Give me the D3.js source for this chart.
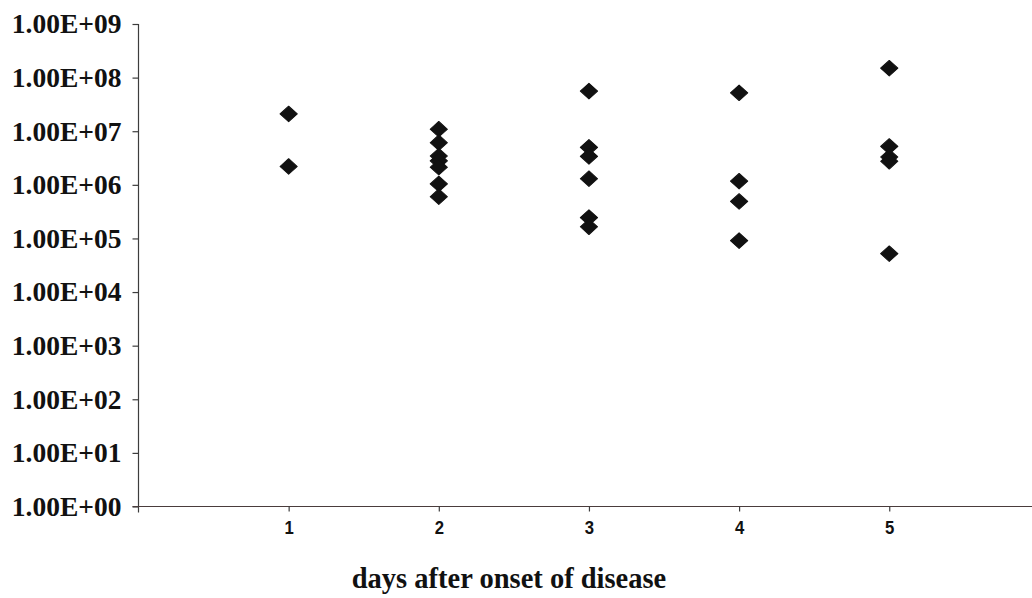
<!DOCTYPE html>
<html>
<head>
<meta charset="utf-8">
<script src="https://cdn.jsdelivr.net/npm/d3@7"></script>
<style>
  html, body { margin: 0; padding: 0; background: #fff; }
  svg { display: block; }
</style>
</head>
<body>
<svg id="chart" width="1032" height="598"></svg>
<script>
// ---- data ----
const days = [1, 2, 3, 4, 5];
const day1 = [2.1e7, 2.2e6];
const day2 = [1.09e7, 6.1e6, 3.45e6, 2.8e6, 2.13e6, 1.04e6, 6.0e5];
const day3 = [5.6e7, 5.0e6, 3.4e6, 1.3e6, 2.45e5, 1.65e5];
const day4 = [5.2e7, 1.17e6, 4.9e5, 9.1e4];
const day5 = [1.5e8, 5.2e6, 3.3e6, 2.75e6, 5.2e4];
const yTickValues = [1e0, 1e1, 1e2, 1e3, 1e4, 1e5, 1e6, 1e7, 1e8, 1e9];
const yTickLabels = ["1.00E+00","1.00E+01","1.00E+02","1.00E+03","1.00E+04",
                     "1.00E+05","1.00E+06","1.00E+07","1.00E+08","1.00E+09"];
const xTitle = "days after onset of disease";

const seriesByDay = [day1, day2, day3, day4, day5];
const points = [];
seriesByDay.forEach((vals, i) => vals.forEach(v => points.push({day: days[i], value: v})));

// ---- layout ----
const svg = d3.select("#chart");
const x0 = 138.5, yTop = 24, yBottom = 506.5;
const x = d3.scaleLinear().domain([0, 6]).range([x0, x0 + 6 * 150.15]);
const y = d3.scaleLog().domain([1e0, 1e9]).range([yBottom, yTop]);

const axisColor = "#3d3d3d";

// y axis
const yAxis = d3.axisLeft(y)
  .tickValues(yTickValues)
  .tickFormat((d, i) => yTickLabels[i])
  .tickSizeInner(6).tickSizeOuter(0).tickPadding(11);
const gy = svg.append("g").attr("transform", `translate(${x0},0)`).call(yAxis);
gy.select(".domain").attr("stroke", axisColor).attr("stroke-width", 1.2)
  .attr("d", `M0,${yTop}V${yBottom + 6}`);
gy.selectAll(".tick line").attr("stroke", axisColor).attr("stroke-width", 1.2);
gy.selectAll(".tick text")
  .attr("fill", "#111")
  .style("font-family", "'Liberation Serif', 'Times New Roman', serif")
  .style("font-weight", "bold")
  .style("font-size", "27.5px");

// x axis
const xAxis = d3.axisBottom(x)
  .tickValues(days)
  .tickFormat(d3.format("d"))
  .tickSizeInner(5).tickSizeOuter(0).tickPadding(9);
const gx = svg.append("g").attr("transform", `translate(0,${yBottom})`).call(xAxis);
gx.select(".domain").attr("stroke", "#4a3c3c").attr("stroke-width", 1.2)
  .attr("d", `M${x0 - 6},0H1032`);
gx.selectAll(".tick line").attr("stroke", axisColor).attr("stroke-width", 1.2);
gx.selectAll(".tick text")
  .attr("fill", "#111")
  .attr("transform", "scale(0.88,1)")
  .style("font-family", "'Liberation Sans', Arial, sans-serif")
  .style("font-weight", "bold")
  .style("font-size", "19px");

// x title
svg.append("text")
  .attr("x", 509).attr("y", 588)
  .attr("text-anchor", "middle")
  .attr("fill", "#111")
  .style("font-family", "'Liberation Serif', 'Times New Roman', serif")
  .style("font-weight", "bold")
  .style("font-size", "28.5px")
  .text(xTitle);

// points (diamonds)
const diamond = d3.symbol().type(d3.symbolDiamond2).size(175);
svg.append("g").selectAll("path").data(points).join("path")
  .attr("transform", d => `translate(${x(d.day)},${y(d.value)}) scale(1.04,0.94)`)
  .attr("d", diamond)
  .attr("fill", "#111")
  .attr("stroke", "#111")
  .attr("stroke-width", 1)
  .attr("stroke-linejoin", "round");
</script>
</body>
</html>
